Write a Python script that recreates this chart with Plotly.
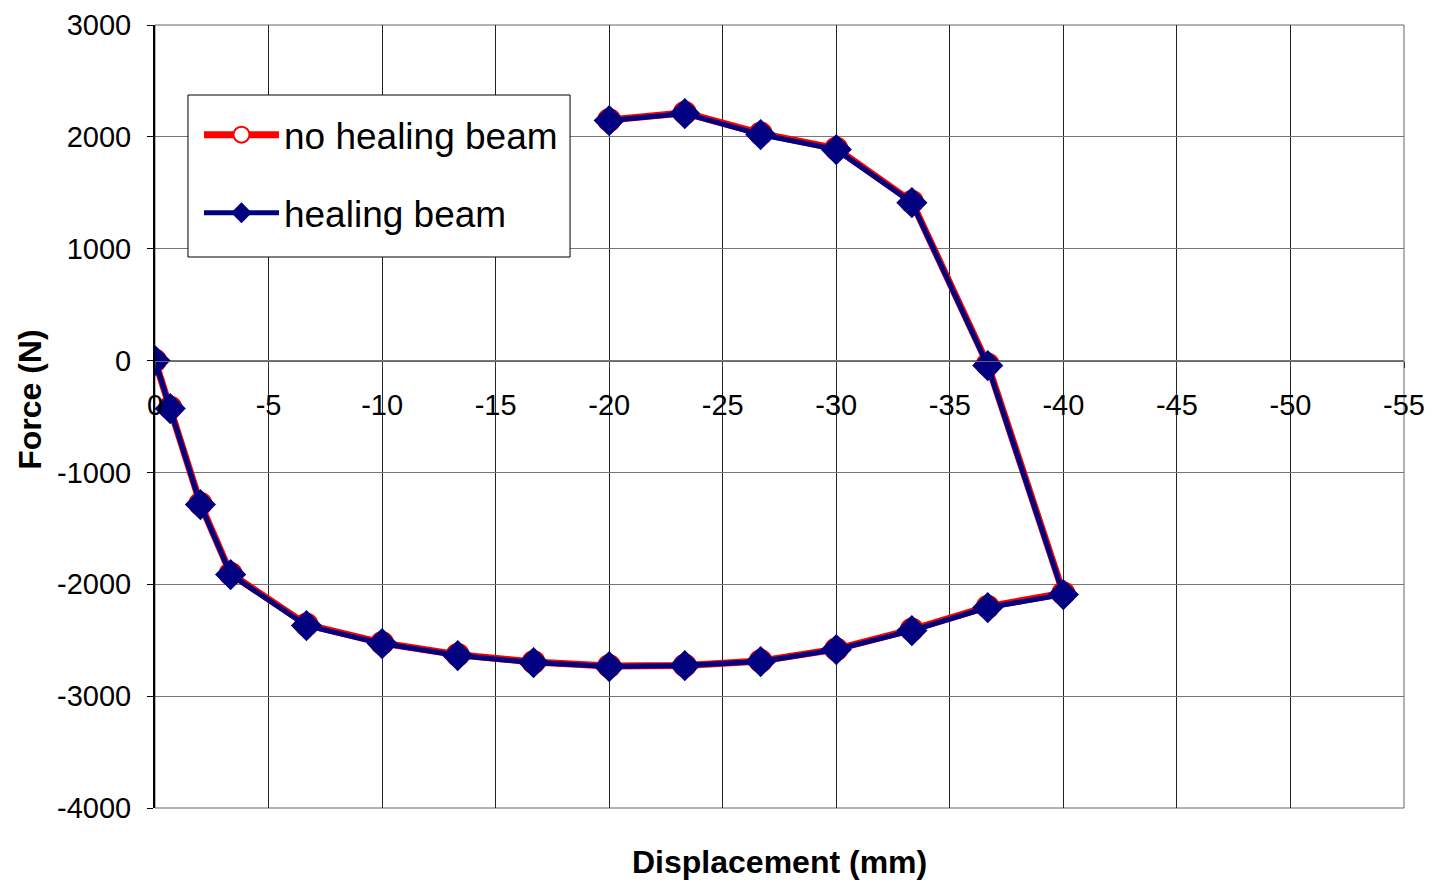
import plotly.graph_objects as go

# displacement (mm) and force (N)
displacement = [0, -0.67, -2, -3.33, -6.67, -10, -13.33, -16.67, -20, -23.33,
                -26.67, -30, -33.33, -36.67, -40, -36.67, -33.33, -30, -26.67,
                -23.33, -20]
force_no_healing = [0, -420, -1280, -1905, -2360, -2525, -2630, -2695, -2730, -2725,
                    -2685, -2580, -2405, -2200, -2080, -35, 1420, 1895, 2030,
                    2215, 2150]
force_healing = [0, -429, -1287, -1913, -2369, -2530, -2637, -2700, -2736, -2727,
                 -2691, -2584, -2414, -2208, -2092, -45, 1412, 1886, 2020,
                 2208, 2146]

x_ticks = [0, -5, -10, -15, -20, -25, -30, -35, -40, -45, -50, -55]
y_ticks = [3000, 2000, 1000, 0, -1000, -2000, -3000, -4000]

font_family = "Liberation Sans, Arial, sans-serif"

fig = go.Figure()
fig.add_trace(go.Scatter(
    x=displacement, y=force_no_healing, name="no healing beam",
    mode="lines+markers", legendgroup="a",
    line=dict(color="#ff0000", width=7),
    marker=dict(symbol="circle", size=22, color="white",
                line=dict(color="#ff0000", width=2)),
))
fig.add_trace(go.Scatter(
    x=displacement, y=force_healing, name="healing beam",
    mode="lines+markers", legendgroup="b",
    line=dict(color="#000080", width=5),
    marker=dict(symbol="diamond", size=24, color="#000080"),
))

fig.update_layout(
    width=1432, height=882,
    margin=dict(l=155, r=28, t=25, b=74, autoexpand=False),
    paper_bgcolor="white", plot_bgcolor="white",
    font=dict(family=font_family, size=29, color="black"),
    showlegend=True,
    legend=dict(
        x=0.0352, y=0.899, xanchor="left", yanchor="top",
        bgcolor="rgba(0,0,0,0)", borderwidth=0,
        font=dict(size=37), itemwidth=75,
        traceorder="grouped", tracegroupgap=27,
    ),
)

fig.update_xaxes(
    range=[0, -55], tickvals=x_ticks, ticktext=[str(v) for v in x_ticks],
    anchor="free", position=4 / 7, automargin=False,
    showgrid=True, gridcolor="#222222", gridwidth=1,
    showline=True, linecolor="#666666", linewidth=1,
    ticks="outside", ticklen=6, tickcolor="#333333",
    ticklabelstandoff=13, zeroline=False,
)
fig.update_yaxes(
    range=[-4000, 3000], tickvals=y_ticks, ticktext=[str(v) for v in y_ticks],
    domain=[0, 1], automargin=False,
    showgrid=True, gridcolor="#777777", gridwidth=1,
    showline=True, linecolor="black", linewidth=2,
    ticks="outside", ticklen=6, tickcolor="black",
    zeroline=False, ticklabelstandoff=10,
)

# plot area frame
fig.add_shape(type="rect", xref="paper", yref="paper", x0=0, x1=1, y0=0, y1=1,
              line=dict(color="#666666", width=1), layer="below")
# legend box
fig.add_shape(type="rect", xref="paper", yref="paper",
              x0=0.0264, x1=0.3323, y0=0.7037, y1=0.9106,
              fillcolor="white", line=dict(color="black", width=1), layer="above")

fig.add_annotation(text="<b>Displacement (mm)</b>", xref="paper", yref="paper",
                   x=0.5, y=-0.069, xanchor="center", yanchor="middle",
                   showarrow=False, font=dict(size=32))
fig.add_annotation(text="<b>Force (N)</b>", xref="paper", yref="paper",
                   x=-0.1, y=4 / 7 - 0.05, xanchor="center", yanchor="middle",
                   textangle=-90, showarrow=False, font=dict(size=32))

fig.write_html("out.html", config={"displayModeBar": False},
               post_script="document.body.style.margin='0';")
